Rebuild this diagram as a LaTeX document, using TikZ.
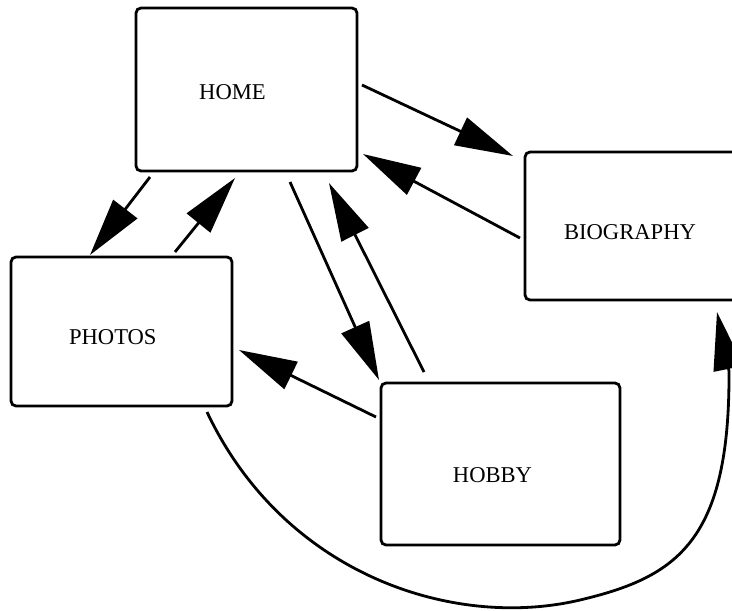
\documentclass[tikz,border=0pt]{standalone}
\usepackage{fontspec}
\setmainfont{Liberation Serif}
\usetikzlibrary{arrows.meta,calc}
\tikzset{
  box/.style={draw, line width=2.8pt, rounded corners=5pt, inner sep=0pt},
  lbl/.style={inner sep=0pt, font=\fontsize{22.6}{27}\selectfont},
  arr/.style={line width=2.8pt, -{Triangle[length=58pt,width=30pt]}},
}
\begin{document}
\begin{tikzpicture}[x=1pt,y=-1pt]
\useasboundingbox (0,0) rectangle (732,611);
\node[box, minimum width=221pt, minimum height=163pt] (home) at (246.5,89.5) {};
\node[box, minimum width=221pt, minimum height=148pt] (bio) at (635.5,226) {};
\node[box, minimum width=221pt, minimum height=149pt] (photos) at (121.5,331.5) {};
\node[box, minimum width=239pt, minimum height=162pt] (hobby) at (500.5,464) {};
\node[lbl] (homeT) at (232.5,91.7) {HOME};
\node[lbl] (bioT) at (630,231.7) {BIOGRAPHY};
\node[lbl] (photosT) at (112.8,336.7) {PHOTOS};
\node[lbl] (hobbyT) at (492.5,475) {HOBBY};
\draw[arr] ($(home)+(115.5,-4.5)$) -- ($(bio)+(-122.5,-70)$);
\draw[arr] ($(bio)+(-115.5,12)$) -- ($(home)+(116.5,64.5)$);
\draw[arr] ($(home)+(-96.5,87.5)$) -- ($(photos)+(-31.5,-76.5)$);
\draw[arr] ($(photos)+(53.5,-79.5)$) -- ($(home)+(-11.5,88.5)$);
\draw[arr] ($(home)+(43.5,92.5)$) -- ($(hobby)+(-121.5,-84)$);
\draw[arr] ($(hobby)+(-76.5,-92)$) -- ($(home)+(82.5,93.5)$);
\draw[arr] ($(hobby)+(-124.5,-47)$) -- ($(photos)+(117.5,18.5)$);
\draw[arr] ($(photos)+(85.5,80.5)$) .. controls (284,574.9) and (453.5,629.9) .. (580,600)
  .. controls (677.3,577) and (730,541) .. (729,371) -- ($(bio)+(81.5,86)$);
\end{tikzpicture}
\end{document}
